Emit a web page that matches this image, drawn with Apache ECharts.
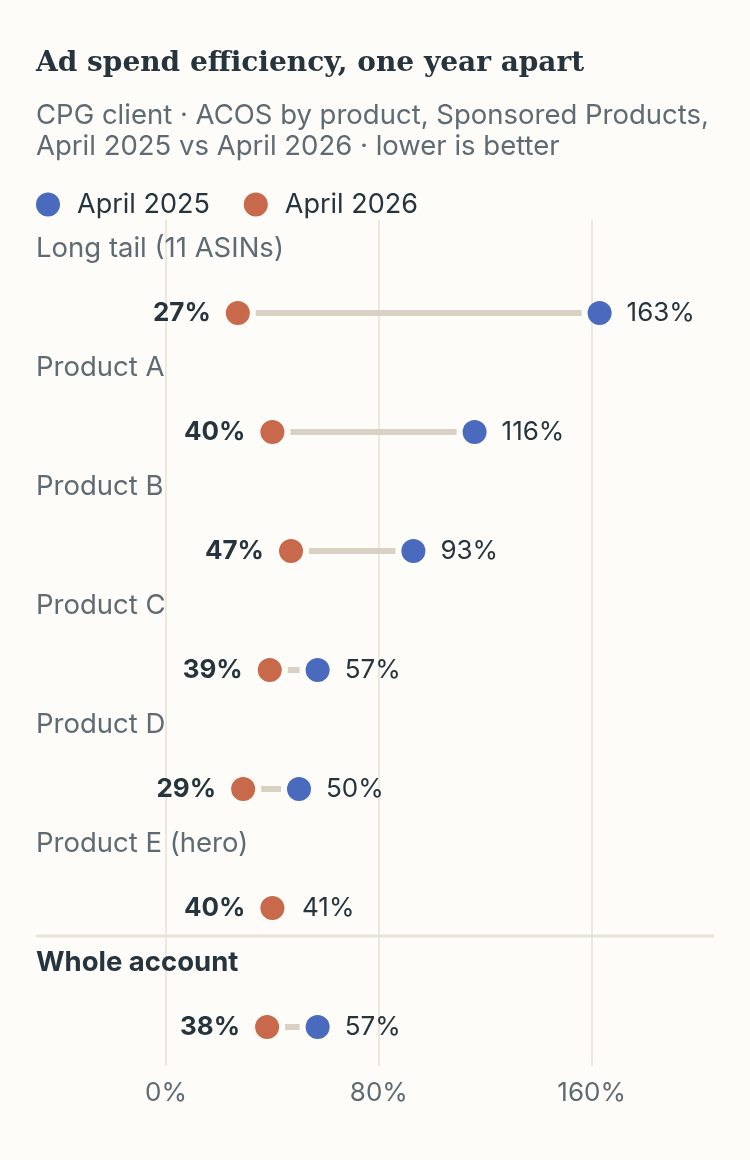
<!DOCTYPE html>
<html>
<head>
<meta charset="utf-8">
<script src="https://cdn.jsdelivr.net/npm/echarts@6/dist/echarts.min.js"></script>
<style>
  html, body { margin: 0; padding: 0; background: #fdfcf8; }
  #chart { width: 750px; height: 1160px; }
</style>
</head>
<body>
<div id="chart"></div>
<script>
// 数据
const categories = ['Long tail (11 ASINs)', 'Product A', 'Product B', 'Product C', 'Product D', 'Product E (hero)', 'Whole account'];
const acos2025 = [163, 116, 93, 57, 50, 41, 57];
const acos2026 = [27, 40, 47, 39, 29, 40, 38];
const xTicks = [0, 80, 160];

const BG = '#fdfcf8';
const BLUE = '#4a6bbd';
const ORANGE = '#c7694a';
const DARK = '#26343d';
const GREY = '#5f6b73';
const FONT = 'Inter, "Noto Sans", sans-serif';

const chart = echarts.init(document.getElementById('chart'));

// 哑铃连接线
const connectData = categories.map((c, i) => [i, acos2026[i], acos2025[i]]);

const option = {
  backgroundColor: BG,
  textStyle: { fontFamily: FONT },
  title: [
    {
      text: 'Ad spend efficiency, one year apart',
      left: 36, top: 50, padding: 0,
      textStyle: { fontFamily: '"DejaVu Serif", serif', fontWeight: 'bold', fontSize: 28, color: DARK }
    },
    {
      text: 'CPG client · ACOS by product, Sponsored Products,\nApril 2025 vs April 2026 · lower is better',
      left: 36, top: 100, padding: 0,
      textStyle: { fontFamily: FONT, fontWeight: 'normal', fontSize: 27.5, lineHeight: 31, color: GREY }
    }
  ],
  legend: {
    left: 36, top: 191, padding: 0,
    itemWidth: 24, itemHeight: 24, itemGap: 34,
    icon: 'circle',
    data: ['April 2025', 'April 2026'],
    itemStyle: { borderWidth: 0, opacity: 1 },
    textStyle: { fontSize: 27, color: DARK, padding: [0, 0, 0, 12] }
  },
  graphic: [
    // 分隔线
    { type: 'line', shape: { x1: 36, y1: 936, x2: 714, y2: 936 }, style: { stroke: '#e9e4d9', lineWidth: 3 }, z: 1 }
  ],
  grid: [
    { left: 166, right: 36, top: 253.5, bottom: 73.5 },
    { left: 166, right: 36, top: 220, bottom: 94 }
  ],
  xAxis: [
    {
      gridIndex: 0, type: 'value', min: 0, max: 206,
      axisLine: { show: false }, axisTick: { show: false }, axisLabel: { show: false }, splitLine: { show: false }
    },
    {
      gridIndex: 1, type: 'value', min: 0, max: 206, interval: 80,
      axisLine: { show: false }, axisTick: { show: false },
      axisLabel: {
        margin: 14, fontSize: 26, color: GREY, showMaxLabel: false,
        formatter: v => (xTicks.indexOf(v) >= 0 ? v + '%' : '')
      },
      splitLine: { show: true, showMaxLine: false, lineStyle: { color: '#ece8de', width: 2 } }
    }
  ],
  yAxis: [
    {
      gridIndex: 0, type: 'category', inverse: true, data: categories,
      axisLine: { show: false }, axisTick: { show: false },
      axisLabel: {
        align: 'left', margin: 130, fontSize: 27.5, color: GREY,
        verticalAlign: 'middle', padding: [0, 0, 128, 0],
        formatter: (v, i) => (i === categories.length - 1 ? '{b|' + v + '}' : v),
        rich: { b: { fontSize: 27.5, fontWeight: 'bold', color: DARK } }
      }
    },
    { gridIndex: 1, type: 'value', show: false }
  ],
  series: [
    {
      type: 'custom',
      xAxisIndex: 0, yAxisIndex: 0,
      silent: true,
      data: connectData,
      encode: { x: [1, 2], y: 0 },
      renderItem: (params, api) => {
        const a = api.coord([api.value(1), api.value(0)]);
        const b = api.coord([api.value(2), api.value(0)]);
        const x1 = Math.min(a[0], b[0]) + 18;
        const x2 = Math.max(a[0], b[0]) - 18;
        if (x2 <= x1) return null;
        return {
          type: 'line',
          shape: { x1: x1, y1: a[1], x2: x2, y2: a[1] },
          style: { stroke: '#d9d1c4', lineWidth: 6 }
        };
      },
      z: 2
    },
    {
      name: 'April 2025',
      type: 'scatter',
      xAxisIndex: 0, yAxisIndex: 0,
      symbolSize: 24,
      itemStyle: { color: BLUE, opacity: 1 },
      data: acos2025.map((v, i) => [v, i]),
      label: {
        show: true, position: 'right', distance: 15,
        fontSize: 26, color: DARK,
        formatter: p => p.value[0] + '%'
      },
      z: 3
    },
    {
      name: 'April 2026',
      type: 'scatter',
      xAxisIndex: 0, yAxisIndex: 0,
      symbolSize: 28,
      itemStyle: { color: ORANGE, opacity: 1, borderColor: BG, borderWidth: 4 },
      data: acos2026.map((v, i) => [v, i]),
      label: {
        show: true, position: 'left', distance: 11,
        fontSize: 26, fontWeight: 'bold', color: DARK,
        formatter: p => p.value[0] + '%'
      },
      z: 4
    },
    // 用于显示第二个网格的刻度
    { type: 'line', xAxisIndex: 1, yAxisIndex: 1, data: [], silent: true }
  ]
};

chart.setOption(option);
</script>
</body>
</html>
